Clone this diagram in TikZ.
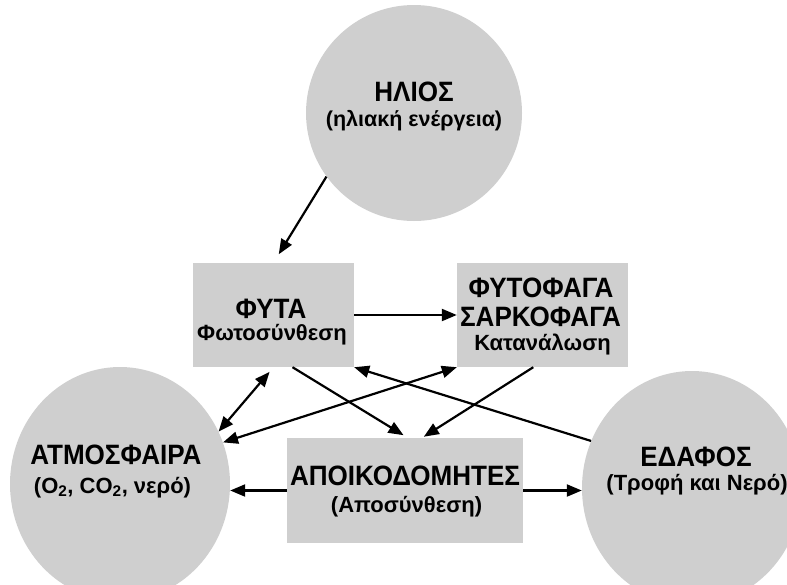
\documentclass[tikz,border=0pt]{standalone}
\usepackage{fontspec}
\setmainfont{Liberation Sans}
\newfontfamily\titlefont{Liberation Sans}[FakeStretch=0.93]
\usetikzlibrary{shapes.geometric,arrows.meta,calc}
\definecolor{shapegray}{RGB}{207,207,207}
\begin{document}
\begin{tikzpicture}[x=1pt,y=-1pt,
  box/.style={rectangle, fill=shapegray, draw=none, inner sep=0pt},
  blob/.style={ellipse, fill=shapegray, draw=none, inner sep=0pt},
  ttl/.style={anchor=base, inner sep=0pt, font=\titlefont\fontsize{28}{32}\selectfont\bfseries},
  sub/.style={anchor=base, inner sep=0pt, font=\fontsize{22}{26}\selectfont\bfseries},
  tip/.tip={Triangle[length=15pt,width=12pt]},
  arr/.style={line width=2.2pt, -tip},
  darr/.style={line width=2.2pt, tip-tip},
]
\clip (0,0) rectangle (787,584);
% shapes
\node[circle, fill=shapegray, inner sep=0pt, minimum size=216pt] (sun) at (414,113) {};
\node[box, minimum width=161pt, minimum height=104pt] (fyta) at (273.5,315) {};
\node[box, minimum width=171pt, minimum height=104pt] (herb) at (542.5,315) {};
\node[box, minimum width=236pt, minimum height=105pt] (apo) at (405,490.5) {};
\node[blob, minimum width=220pt, minimum height=234pt] (atm) at (120,484) {};
\node[blob, minimum width=220pt, minimum height=234pt] (earth) at (692,488) {};
% texts
\node[ttl] (sun-a) at (414,101) {ΗΛΙΟΣ};
\node[sub, font=\fontsize{21.5}{26}\selectfont\bfseries] (sun-b) at (414,126) {(ηλιακή ενέργεια)};
\node[ttl] (fyta-a) at (271,318) {ΦΥΤΑ};
\node[sub] (fyta-b) at (272,340) {Φωτοσύνθεση};
\node[ttl] (herb-a) at (541,297) {ΦΥΤΟΦΑΓΑ};
\node[ttl] (herb-b) at (540.5,326) {ΣΑΡΚΟΦΑΓΑ};
\node[sub] (herb-c) at (542.5,350) {Κατανάλωση};
\node[ttl] (apo-a) at (405,485) {ΑΠΟΙΚΟΔΟΜΗΤΕΣ};
\node[sub] (apo-b) at (406.5,512) {(Αποσύνθεση)};
\node[ttl] (atm-a) at (116,464) {ΑΤΜΟΣΦΑΙΡΑ};
\node[sub] (atm-b) at (112.5,493) {(O\textsubscript{2}, CO\textsubscript{2}, νερό)};
\node[ttl] (earth-a) at (696,466) {ΕΔΑΦΟΣ};
\node[sub] (earth-b) at (697,490) {(Τροφή και Νερό)};
% connectors
\draw[arr, shorten >=10pt] (sun.216) -- (fyta.north);
\draw[arr] (fyta.east) -- (herb.west);
\draw[darr, shorten >=6pt] (atm.28) -- (fyta.south);
\draw[arr, shorten >=5pt] (fyta.-70) -- (apo.87);
\draw[darr] (herb.south west) -- (atm.22);
\draw[arr, shorten >=2pt] (herb.-100) -- (apo.72);
\draw[arr] (earth.155) -- (fyta.south east);
\draw[arr] (apo.west) -- (apo.west -| atm.east);
\draw[arr] (apo.east) -- (apo.east -| earth.west);
\end{tikzpicture}
\end{document}
